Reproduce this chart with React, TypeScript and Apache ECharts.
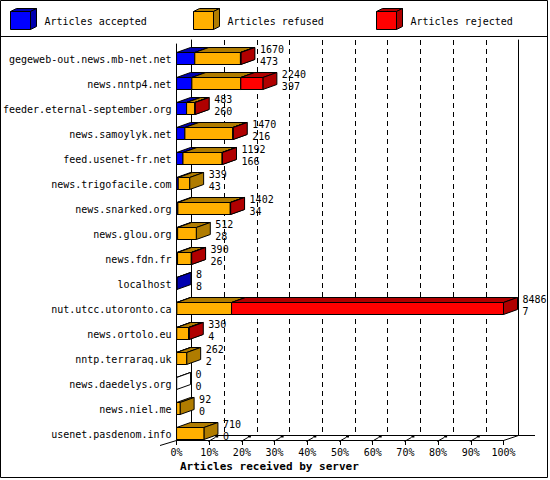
import React, { useEffect, useRef } from 'react';
import * as echarts from 'echarts';

const servers = [
  'gegeweb-out.news.mb-net.net',
  'news.nntp4.net',
  'feeder.eternal-september.org',
  'news.samoylyk.net',
  'feed.usenet-fr.net',
  'news.trigofacile.com',
  'news.snarked.org',
  'news.glou.org',
  'news.fdn.fr',
  'localhost',
  'nut.utcc.utoronto.ca',
  'news.ortolo.eu',
  'nntp.terraraq.uk',
  'news.daedelys.org',
  'news.niel.me',
  'usenet.pasdenom.info',
];
const totals = [1670, 2240, 483, 1470, 1192, 339, 1402, 512, 390, 8, 8486, 330, 262, 0, 92, 710];
const accepted = [473, 397, 260, 216, 166, 43, 34, 28, 26, 8, 7, 4, 2, 0, 0, 0];
const refused = [1185, 1270, 213, 1244, 1016, 296, 1360, 484, 356, 0, 1420, 306, 260, 0, 92, 710];
const rejected = [12, 573, 10, 10, 10, 0, 8, 0, 8, 0, 7059, 20, 0, 0, 0, 0];

const seriesNames = ['Articles accepted', 'Articles refused', 'Articles rejected'];
const frontColors = ['#0000ff', '#ffb000', '#ff0000'];
const darkColors = ['#0000b0', '#b07c00', '#b00000'];
const percentTicks = [0, 10, 20, 30, 40, 50, 60, 70, 80, 90, 100];
const floorMarks = [10, 20, 30, 40, 50, 60, 70, 80, 90];

const MONO = '"DejaVu Sans Mono", monospace';
const DX = 14;
const DY = 5;
const line = { stroke: '#000', lineWidth: 1 };

// one 3D box per server for a segment of the stack
const boxRenderer = (front: string, dark: string, drawEmpty: boolean) => (params: any, api: any) => {
  const idx = api.value(0);
  const s = api.value(1);
  const e = api.value(2);
  const total = api.value(3);
  const empty = e <= s;
  if (empty && !(drawEmpty && total === 0)) return null;
  const a = api.coord([s, idx]);
  const b = api.coord([e, idx]);
  const yTop = a[1] - 6.5;
  const yBot = a[1] + 5.5;
  const x0 = a[0];
  const x1 = b[0];
  return {
    type: 'group',
    children: [
      {
        type: 'polygon',
        shape: { points: [[x0, yTop], [x0 + DX, yTop - DY], [x1 + DX, yTop - DY], [x1, yTop]] },
        style: { fill: empty ? '#fff' : dark, ...line },
      },
      {
        type: 'polygon',
        shape: { points: [[x1, yTop], [x1 + DX, yTop - DY], [x1 + DX, yBot - DY], [x1, yBot]] },
        style: { fill: empty ? '#fff' : dark, ...line },
      },
      {
        type: 'rect',
        shape: { x: x0, y: yTop, width: x1 - x0, height: yBot - yTop },
        style: { fill: empty ? '#fff' : front, ...line },
      },
    ],
  };
};

const App: React.FC = () => {
  const chartRef = useRef<HTMLDivElement>(null);

  useEffect(() => {
    if (!chartRef.current) return;
    document.body.style.margin = '0';

    const chart = echarts.init(chartRef.current, null, { renderer: 'svg' });

    const segments = [
      servers.map((_, i) => [i, 0, accepted[i], totals[i]]),
      servers.map((_, i) => [i, accepted[i], accepted[i] + refused[i], totals[i]]),
      servers.map((_, i) => [i, accepted[i] + refused[i], accepted[i] + refused[i] + rejected[i], totals[i]]),
    ];

    const legendItems: any[] = [];
    seriesNames.forEach((name, i) => {
      const x0 = 10.5 + i * 183;
      legendItems.push(
        {
          type: 'polygon',
          shape: { points: [[x0, 11.5], [x0 + 6, 8.5], [x0 + 26, 8.5], [x0 + 20, 11.5]] },
          style: { fill: darkColors[i], ...line },
        },
        {
          type: 'polygon',
          shape: { points: [[x0 + 20, 11.5], [x0 + 26, 8.5], [x0 + 26, 26.5], [x0 + 20, 29.5]] },
          style: { fill: darkColors[i], ...line },
        },
        {
          type: 'rect',
          shape: { x: x0, y: 11.5, width: 20, height: 18 },
          style: { fill: frontColors[i], ...line },
        },
        {
          type: 'text',
          x: x0 + 34,
          y: 21,
          style: { text: name, fontSize: 10, fontFamily: MONO, fill: '#000', verticalAlign: 'middle' },
        }
      );
    });

    const hidden = { show: false };

    const option = {
      animation: false,
      backgroundColor: '#fff',
      title: {
        text: 'Articles received by server',
        left: 180,
        top: 461,
        padding: 0,
        textStyle: { fontFamily: MONO, fontWeight: 'bold', fontSize: 11, color: '#000' },
      },
      grid: [
        { left: 176.5, top: 46.5, width: 327, height: 400 },
        { left: 176.5, top: 44, width: 327, height: 396 },
        { left: 191.5, top: 40, width: 327, height: 395 },
      ],
      xAxis: [
        {
          gridIndex: 0,
          type: 'value',
          min: 0,
          max: Math.max(...totals),
          show: false,
        },
        {
          gridIndex: 1,
          type: 'value',
          min: 0,
          max: 100,
          interval: 10,
          axisLine: { show: true, onZero: false, lineStyle: { color: '#000', width: 1 } },
          axisTick: { show: true, length: 5, lineStyle: { color: '#000' } },
          axisLabel: {
            formatter: (v: number) => (percentTicks.includes(v) ? v + '%' : ''),
            fontSize: 10,
            fontFamily: MONO,
            color: '#000',
            margin: 7,
          },
          splitLine: hidden,
        },
        {
          gridIndex: 2,
          type: 'value',
          min: 0,
          max: 100,
          interval: 10,
          axisLine: { show: true, onZero: false, lineStyle: { color: '#000', width: 1 } },
          axisTick: hidden,
          axisLabel: hidden,
          splitLine: {
            show: true,
            showMinLine: false,
            showMaxLine: false,
            lineStyle: { color: '#000', width: 1, type: [5, 4] },
          },
        },
      ],
      yAxis: [
        {
          gridIndex: 0,
          type: 'category',
          data: servers,
          inverse: true,
          axisLine: hidden,
          axisTick: hidden,
          splitLine: hidden,
          axisLabel: { interval: 0, fontSize: 10, fontFamily: MONO, color: '#000', margin: 5 },
        },
        {
          gridIndex: 1,
          type: 'value',
          min: 0,
          max: 1,
          axisLine: { show: true, onZero: false, lineStyle: { color: '#000', width: 1 } },
          axisTick: hidden,
          axisLabel: hidden,
          splitLine: hidden,
        },
        {
          gridIndex: 2,
          type: 'value',
          min: 0,
          max: 1,
          axisLine: { show: true, onZero: false, lineStyle: { color: '#000', width: 1 } },
          axisTick: hidden,
          axisLabel: hidden,
          splitLine: hidden,
        },
        {
          gridIndex: 2,
          type: 'value',
          position: 'right',
          min: 0,
          max: 1,
          axisLine: { show: true, onZero: false, lineStyle: { color: '#000', width: 1 } },
          axisTick: hidden,
          axisLabel: hidden,
          splitLine: hidden,
        },
      ],
      graphic: [
        {
          type: 'rect',
          z: 10,
          shape: { x: 0.5, y: 0.5, width: 547, height: 477 },
          style: { fill: 'none', stroke: '#000', lineWidth: 1 },
        },
        {
          type: 'line',
          z: 10,
          shape: { x1: 0.5, y1: 36.5, x2: 547.5, y2: 36.5 },
          style: { stroke: '#000', lineWidth: 1 },
        },
        {
          type: 'line',
          z: 1,
          shape: { x1: 503.5, y1: 440.5, x2: 518.5, y2: 435.5 },
          style: { stroke: '#000', lineWidth: 1 },
        },
        {
          type: 'line',
          z: 1,
          shape: { x1: 518.5, y1: 435.5, x2: 535, y2: 435.5 },
          style: { stroke: '#000', lineWidth: 1 },
        },
        {
          type: 'line',
          z: 1,
          shape: { x1: 160, y1: 445.5, x2: 176.5, y2: 440.5 },
          style: { stroke: '#000', lineWidth: 1 },
        },
        ...legendItems,
      ],
      series: [
        ...seriesNames.map((name, k) => ({
          name,
          type: 'custom',
          xAxisIndex: 0,
          yAxisIndex: 0,
          clip: false,
          renderItem: boxRenderer(frontColors[k], darkColors[k], k === 0),
          encode: { x: [1, 2], y: 0 },
          data: segments[k],
          z: 3,
        })),
        {
          name: 'labels',
          type: 'custom',
          xAxisIndex: 0,
          yAxisIndex: 0,
          clip: false,
          z: 4,
          encode: { x: 1, y: 0 },
          data: servers.map((_, i) => [i, totals[i], accepted[i]]),
          renderItem: (params: any, api: any) => {
            const p = api.coord([api.value(1), api.value(0)]);
            const style = { fontSize: 10, fontFamily: MONO, fill: '#000', verticalAlign: 'middle' };
            return {
              type: 'group',
              children: [
                { type: 'text', x: p[0] + 19, y: p[1] - 10, style: { ...style, text: String(api.value(1)) } },
                { type: 'text', x: p[0] + 19, y: p[1] + 2, style: { ...style, text: String(api.value(2)) } },
              ],
            };
          },
        },
        {
          name: 'floor',
          type: 'custom',
          xAxisIndex: 1,
          yAxisIndex: 1,
          clip: false,
          z: 1,
          encode: { x: 0, y: 1 },
          data: floorMarks.map((v) => [v, 0]),
          renderItem: (params: any, api: any) => {
            const p = api.coord([api.value(0), 0]);
            return {
              type: 'group',
              children: [
                { type: 'line', shape: { x1: p[0] - 1, y1: p[1] + 1.5, x2: p[0] + 6, y2: p[1] - 2.5 }, style: line },
                { type: 'rect', shape: { x: p[0] + 6, y: p[1] - 4.5, width: 3, height: 2 }, style: { fill: '#000' } },
              ],
            };
          },
        },
      ],
    };

    chart.setOption(option);

    return () => {
      chart.dispose();
    };
  }, []);

  return <div ref={chartRef} style={{ width: '550px', height: '480px' }} />;
};

export default App;
